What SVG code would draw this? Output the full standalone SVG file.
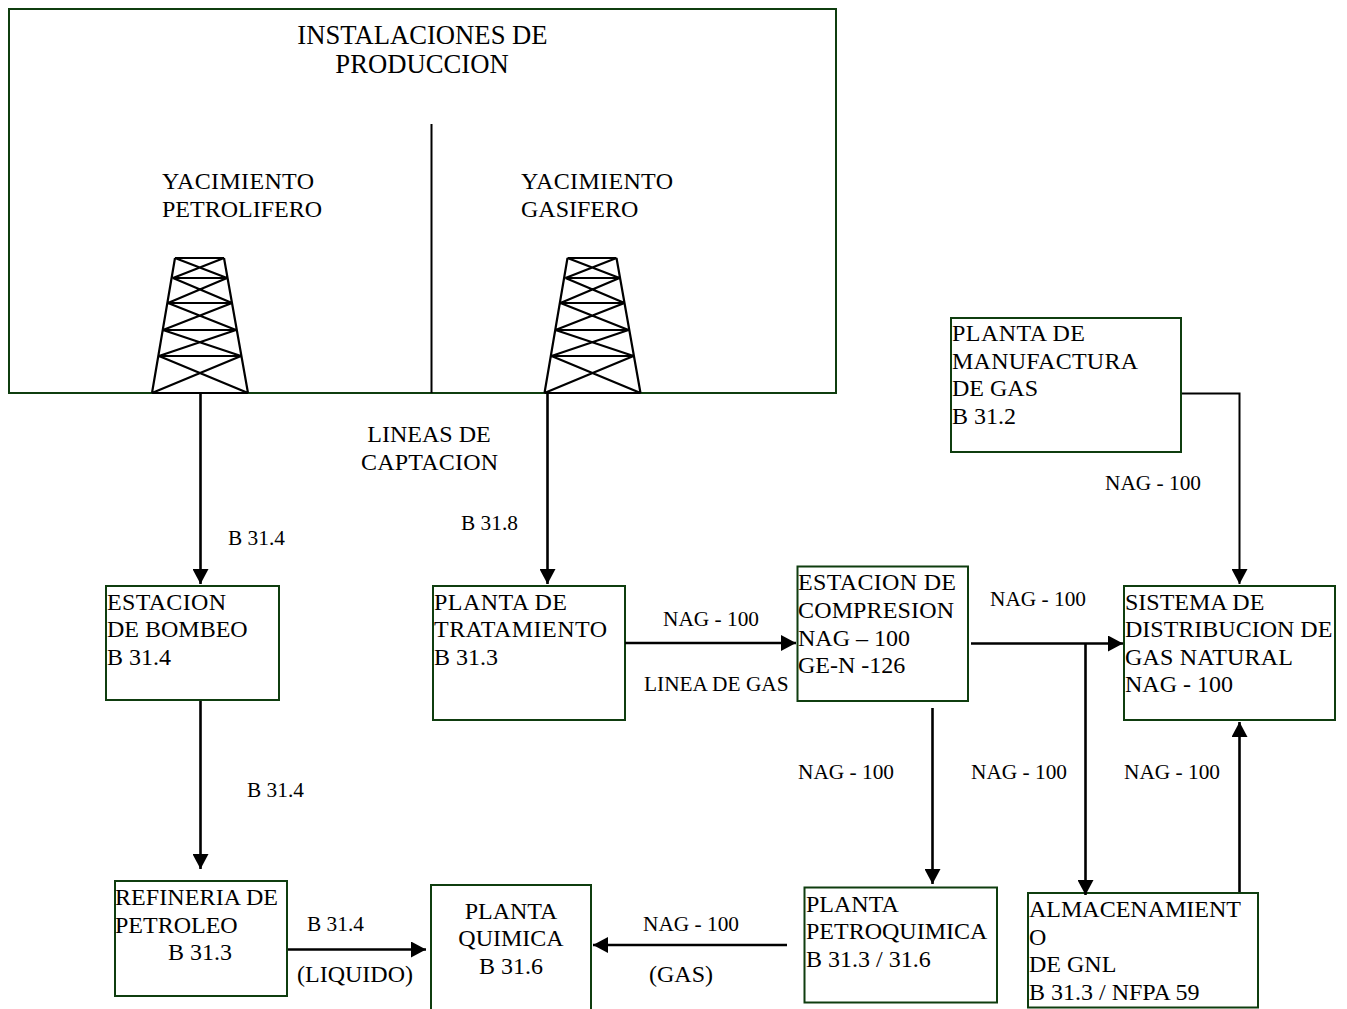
<svg xmlns="http://www.w3.org/2000/svg" width="1347" height="1009" viewBox="0 0 1347 1009">
<style>
text{font-family:"Liberation Serif","Times New Roman",serif;fill:#000}
.h{font-size:26.67px}
.l{font-size:24px}
.s{font-size:21.33px}
.m{text-anchor:middle}
.b{fill:#fff;stroke:#0f3d0f;stroke-width:2}
.c{fill:none;stroke:#000;stroke-width:2.6}
.t{fill:none;stroke:#000;stroke-width:2.2}
.n{fill:none;stroke:#000;stroke-width:2}
</style>
<defs>
<marker id="a" markerUnits="userSpaceOnUse" markerWidth="16" markerHeight="16" refX="15" refY="8" orient="auto"><path d="M0 0L15 8L0 16Z" fill="#000"/></marker>
<g id="tower">
<path class="t" d="M175 258H224M173 278H227M168 303H232M163 330H236M159 356H241M152 393H248M175 258L152 393M224 258L248 393M175 258L227 278M224 258L173 278M173 278L232 303M227 278L168 303M168 303L236 330M232 303L163 330M163 330L241 356M236 330L159 356M159 356L248 393M241 356L152 393"/>
</g>
</defs>
<rect width="1347" height="1009" fill="#fff"/>
<g id="instalaciones">
<rect class="b" x="9" y="9" width="827" height="384"/>
<path class="n" d="M431.500 124V393"/>
<text class="h m" x="422.500" y="44">INSTALACIONES DE</text>
<text class="h m" x="422" y="73">PRODUCCION</text>
<text class="l" x="162" y="189" textLength="152">YACIMIENTO</text>
<text class="l m" x="242" y="217">PETROLIFERO</text>
<text class="l" x="521" y="189" textLength="152">YACIMIENTO</text>
<text class="l" x="521" y="217">GASIFERO</text>
<use href="#tower"/>
<use href="#tower" x="392.500"/>
</g>
<g id="estacion-bombeo"><rect class="b" x="106" y="586" width="173" height="114"/><text class="l" x="107" y="610" textLength="119">ESTACION</text><text class="l" x="107" y="637">DE BOMBEO</text><text class="l" x="107" y="665">B 31.4</text></g>
<g id="planta-tratamiento"><rect class="b" x="433" y="586" width="192" height="134"/><text class="l" x="434" y="610" textLength="133">PLANTA DE</text><text class="l" x="434" y="637" textLength="173">TRATAMIENTO</text><text class="l" x="434" y="665">B 31.3</text></g>
<g id="estacion-compresion"><rect class="b" x="797.500" y="566.500" width="170.500" height="134.500"/><text class="l" x="798" y="590" textLength="158">ESTACION DE</text><text class="l" x="798" y="618" textLength="156">COMPRESION</text><text class="l" x="798" y="646">NAG – 100</text><text class="l" x="798" y="673">GE-N -126</text></g>
<g id="planta-manufactura"><rect class="b" x="951" y="318" width="230" height="134"/><text class="l" x="952" y="341" textLength="133">PLANTA DE</text><text class="l" x="952" y="369" textLength="186">MANUFACTURA</text><text class="l" x="952" y="396">DE GAS</text><text class="l" x="952" y="424">B 31.2</text></g>
<g id="sistema-distribucion"><rect class="b" x="1124" y="586" width="211" height="134"/><text class="l" x="1125" y="610">SISTEMA DE</text><text class="l" x="1125" y="637">DISTRIBUCION DE</text><text class="l" x="1125" y="665" textLength="168">GAS NATURAL</text><text class="l" x="1125" y="692">NAG - 100</text></g>
<g id="refineria"><rect class="b" x="115" y="881" width="172" height="115"/><text class="l" x="115" y="905" textLength="163">REFINERIA DE</text><text class="l" x="115" y="933">PETROLEO</text><text class="l" x="168" y="960">B 31.3</text></g>
<g id="planta-quimica"><rect class="b" x="431" y="885" width="160" height="134"/><text class="l m" x="511" y="919">PLANTA</text><text class="l m" x="511" y="946">QUIMICA</text><text class="l m" x="511" y="974">B 31.6</text></g>
<g id="planta-petroquimica"><rect class="b" x="804.500" y="887.500" width="192.500" height="115"/><text class="l" x="806" y="912">PLANTA</text><text class="l" x="806" y="939">PETROQUIMICA</text><text class="l" x="806" y="967">B 31.3 / 31.6</text></g>
<g id="almacenamiento"><rect class="b" x="1028" y="893" width="230" height="114.500"/><text class="l" x="1029" y="917">ALMACENAMIENT</text><text class="l" x="1029" y="945">O</text><text class="l" x="1029" y="972">DE GNL</text><text class="l" x="1029" y="1000">B 31.3 / NFPA 59</text></g>
<g id="connectors">
<path class="c" marker-end="url(#a)" d="M200.500 393V584"/>
<path class="c" marker-end="url(#a)" d="M547.500 393V584"/>
<path class="c" marker-end="url(#a)" d="M200.500 701V869"/>
<path class="c" marker-end="url(#a)" d="M625 643H796"/>
<path class="c" marker-end="url(#a)" d="M971 643.500H1123"/>
<path class="c" marker-end="url(#a)" d="M1085.500 643.500V895"/>
<path class="c" marker-end="url(#a)" d="M932.500 708V884"/>
<path class="c" marker-end="url(#a)" d="M1239.500 892V722"/>
<path class="n" marker-end="url(#a)" d="M1182 393.500H1239.500V584"/>
<path class="c" marker-end="url(#a)" d="M288 949.500H426"/>
<path class="c" marker-end="url(#a)" d="M787 945H593"/>
</g>
<g id="labels">
<text class="l m" x="429" y="442">LINEAS DE</text>
<text class="l" x="361" y="470" textLength="137">CAPTACION</text>
<text class="s" x="228" y="545">B 31.4</text>
<text class="s" x="461" y="530">B 31.8</text>
<text class="s" x="247" y="797">B 31.4</text>
<text class="s" x="663" y="626">NAG - 100</text>
<text class="s" x="644" y="691">LINEA DE GAS</text>
<text class="s" x="990" y="606">NAG - 100</text>
<text class="s" x="1105" y="490">NAG - 100</text>
<text class="s" x="798" y="779">NAG - 100</text>
<text class="s" x="971" y="779">NAG - 100</text>
<text class="s" x="1124" y="779">NAG - 100</text>
<text class="s" x="307" y="931">B 31.4</text>
<text class="l" x="297" y="982">(LIQUIDO)</text>
<text class="s" x="643" y="931">NAG - 100</text>
<text class="l" x="649" y="982">(GAS)</text>
</g>
</svg>
